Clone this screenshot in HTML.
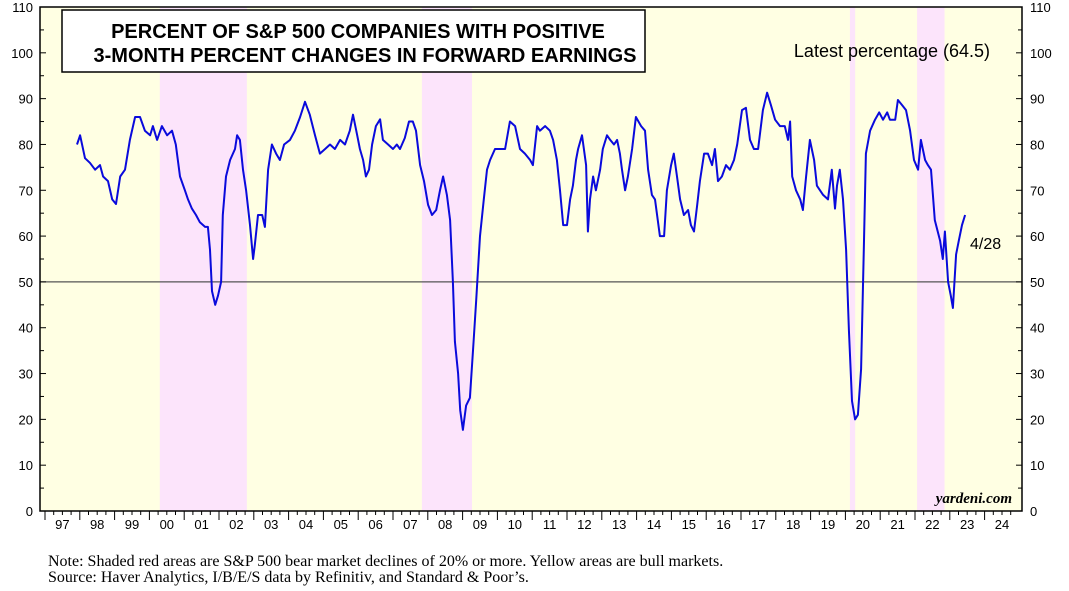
<!DOCTYPE html>
<html><head><meta charset="utf-8"><style>
body{margin:0;background:#fff;width:1069px;height:586px;overflow:hidden;font-family:"Liberation Sans",sans-serif}
</style></head><body>
<svg id="chart" width="1069" height="586" xmlns="http://www.w3.org/2000/svg">
<g id="bg"></g><g id="axes"></g><g id="series"></g>
<rect x="62" y="10" width="583" height="62" fill="#fff" stroke="#000" stroke-width="1.5"/>
<text x="358" y="38" text-anchor="middle" font-family="Liberation Sans" font-weight="bold" font-size="20">PERCENT OF S&amp;P 500 COMPANIES WITH POSITIVE</text>
<text x="365" y="62" text-anchor="middle" font-family="Liberation Sans" font-weight="bold" font-size="20">3-MONTH PERCENT CHANGES IN FORWARD EARNINGS</text>
<text x="892" y="57" text-anchor="middle" font-size="18">Latest percentage (64.5)</text>
<text x="970" y="249" font-size="16">4/28</text>
<text x="1012" y="503" text-anchor="end" font-family="Liberation Serif" font-style="italic" font-weight="bold" font-size="15">yardeni.com</text>
<text x="48" y="566" font-family="Liberation Serif" font-size="16">Note: Shaded red areas are S&amp;P 500 bear market declines of 20% or more. Yellow areas are bull markets.</text>
<text x="48" y="582" font-family="Liberation Serif" font-size="16">Source: Haver Analytics, I/B/E/S data by Refinitiv, and Standard &amp; Poor’s.</text>
</svg>
<script>
const bearStart=[2000.3,2007.83,2020.13,2022.06];
const bearEnd=[2002.8,2009.27,2020.28,2022.85];
const yTicks=[0,10,20,30,40,50,60,70,80,90,100,110];
const xLabels=["97","98","99","00","01","02","03","04","05","06","07","08","09","10","11","12","13","14","15","16","17","18","19","20","21","22","23","24"];
const dates=[0.92,1.01,1.15,1.29,1.44,1.58,1.67,1.81,1.93,2.04,2.16,2.30,2.44,2.59,2.73,2.87,3.02,3.10,3.22,3.36,3.51,3.65,3.76,3.88,4.02,4.11,4.22,4.34,4.45,4.60,4.68,4.74,4.80,4.89,4.97,5.06,5.11,5.20,5.32,5.46,5.52,5.60,5.69,5.78,5.89,5.98,6.03,6.12,6.24,6.32,6.41,6.52,6.64,6.75,6.87,7.04,7.18,7.33,7.47,7.61,7.76,7.90,8.05,8.19,8.33,8.48,8.62,8.76,8.85,8.97,9.05,9.14,9.22,9.31,9.40,9.51,9.63,9.71,9.86,10.00,10.11,10.20,10.34,10.46,10.57,10.66,10.78,10.89,11.01,11.12,11.24,11.35,11.44,11.55,11.64,11.72,11.78,11.87,11.93,12.01,12.10,12.21,12.30,12.39,12.50,12.61,12.70,12.79,12.93,13.07,13.22,13.36,13.51,13.65,13.79,13.94,14.02,14.14,14.22,14.37,14.51,14.60,14.71,14.80,14.89,15.00,15.09,15.17,15.26,15.32,15.43,15.55,15.60,15.66,15.75,15.83,15.95,16.03,16.15,16.24,16.35,16.44,16.52,16.58,16.67,16.75,16.87,16.98,17.13,17.24,17.33,17.44,17.53,17.67,17.79,17.87,17.99,18.07,18.16,18.25,18.36,18.48,18.56,18.65,18.74,18.82,18.94,19.05,19.17,19.25,19.34,19.45,19.57,19.68,19.80,19.89,20.03,20.14,20.26,20.37,20.49,20.63,20.75,20.86,20.98,21.12,21.26,21.35,21.41,21.47,21.58,21.70,21.78,21.87,21.98,22.10,22.18,22.27,22.36,22.50,22.61,22.70,22.76,22.84,22.93,23.02,23.10,23.19,23.28,23.36,23.45,23.53,23.59,23.71,23.85,23.97,24.08,24.20,24.28,24.43,24.51,24.63,24.74,24.86,24.97,25.09,25.17,25.29,25.37,25.46,25.57,25.72,25.80,25.86,25.95,26.03,26.09,26.18,26.26,26.35,26.44];
const values=[80,82,77,76,74.5,75.5,73,72,68,67,73,74.5,81,86,86,83,82,84,81,84,82,83,80,73,70,68,66,64.6,63,62,62,57,48,45,47,50,64.6,73,76.6,79,82,81,74.5,70,62.4,55,58,64.6,64.6,62,74.5,80,78,76.6,80,81,83,86,89.3,86.5,82,78,79,80,79,81,80,83,86.5,82,79,76.6,73,74.5,80,84,85.5,81,80,79,80,79,81.4,85,85,83,75.5,72,66.8,64.6,65.7,70,73,69,63.5,50,37,30,22,17.7,23,24.7,35,46,60,68,74.5,76.6,79,79,79,85,84,79,78,76.6,75.5,84,83,84,83,81,76.6,70,62.4,62.4,68,71,76.6,79,82,75.5,61,68,73,70,74.5,79,82,81,80,81,78,74.5,70,73,79,86,84,83,74.5,69,68,60,60,70,75.5,78,73,68,64.6,65.7,62.4,61,66.8,72,78,78,75.5,79,72,73,75.5,74.5,76.6,80,87.5,88,81,79,79,87.5,91.3,88.6,85.4,84,84,81,85,73,70,68,65.7,73,81,76.6,71,70,69,68,74.5,66,71,74.5,68,57,39.5,24,20,21,31,57,78,83,85.4,87,85.4,87,85.4,85.4,89.7,88.6,87.5,83,76.6,74.5,81,76.6,75.5,74.5,63.5,59,55,61,50,47,44.3,56,59,62.4,64.6];
const NS="http://www.w3.org/2000/svg";
const L=40,R=1022,T=7,B=511,X0=45,PX=34.8;
const xs=t=>X0+(t-1997)*PX, xo=o=>X0+o*PX;
const ys=v=>B-(v/110)*(B-T);
function mk(tag,attrs,parent){const e=document.createElementNS(NS,tag);for(const k in attrs)e.setAttribute(k,attrs[k]);document.getElementById(parent).appendChild(e);return e;}
let e=mk('rect',{x:L,y:T,width:R-L,height:B-T,fill:'#ffffe3'},'bg');


bearStart.forEach((s,i)=>{const r=mk('rect',{x:xs(s),y:T,width:xs(bearEnd[i])-xs(s),height:B-T,fill:'#fce4fb'},'bg');

});
e=mk('line',{x1:L,x2:R,y1:ys(50),y2:ys(50),stroke:'#555',"stroke-width":1.2},'axes');


e=mk('rect',{x:L,y:T,width:R-L,height:B-T,fill:'none',stroke:'#000',"stroke-width":1.5},'axes');


for(let v=0;v<=110;v+=5){const y=ys(v);const w=v%10===0?6:4;
mk('line',{x1:L,x2:L+w,y1:y,y2:y,stroke:'#000'},'axes');mk('line',{x1:R-w,x2:R,y1:y,y2:y,stroke:'#000'},'axes');}
yTicks.forEach(v=>{const y=ys(v)+5;
const a=mk('text',{x:33,y:y,"text-anchor":"end","font-size":13},'axes');a.textContent=v;


const b=mk('text',{x:1030,y:y,"font-size":13},'axes');b.textContent=v;

});
xLabels.forEach((lab,i)=>{const x=X0+i*PX;
mk('line',{x1:x,x2:x,y1:B,y2:B+9,stroke:'#000'},'axes');
for(let q=1;q<4;q++)mk('line',{x1:x+q*PX/4,x2:x+q*PX/4,y1:B,y2:B+4,stroke:'#000'},'axes');
const t=mk('text',{x:x+PX/2,y:B+18,"text-anchor":"middle","font-size":13},'axes');t.textContent=lab;

});
const pts=dates.map((d,i)=>xo(d).toFixed(1)+','+ys(values[i]).toFixed(1)).join(' ');
e=mk('polyline',{points:pts,fill:'none',stroke:'#0a0adc',"stroke-width":2,"stroke-linejoin":"round"},'series');


</script>
</body></html>
